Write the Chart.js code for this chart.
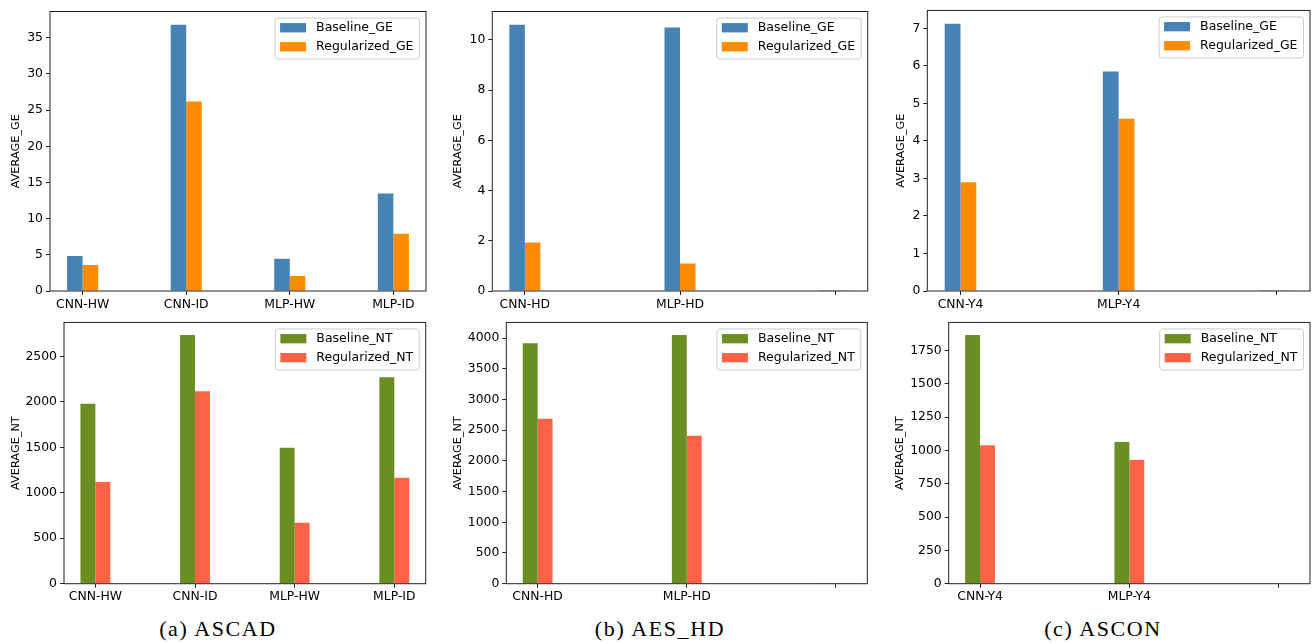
<!DOCTYPE html>
<html>
<head>
<meta charset="utf-8">
<script src="https://cdn.jsdelivr.net/npm/chart.js@4.4.1/dist/chart.umd.min.js"></script>
<style>
  body { margin: 0; background: #fff; width: 1313px; height: 644px; position: relative; overflow: hidden; }
  canvas { position: absolute; }
  .cap { position: absolute; top: 616px; font-family: 'Liberation Serif', serif; font-size: 22px; letter-spacing: 1.6px;
         transform: translateX(-50%); white-space: nowrap; color: #000; }
</style>
</head>
<body>
<canvas id="aGE"></canvas>
<canvas id="bGE"></canvas>
<canvas id="cGE"></canvas>
<canvas id="aNT"></canvas>
<canvas id="bNT"></canvas>
<canvas id="cNT"></canvas>
<div class="cap" style="left:218px">(a) ASCAD</div>
<div class="cap" style="left:660px">(b) AES_HD</div>
<div class="cap" style="left:1103px">(c) ASCON</div>
<script>
// Data
const ascadLabels = ['CNN-HW', 'CNN-ID', 'MLP-HW', 'MLP-ID'];
const ascadBaseGE = [4.83, 36.8, 4.46, 13.47];
const ascadRegGE = [3.6, 26.2, 2.07, 7.9];
const ascadBaseNT = [1981, 2738, 1497, 2272];
const ascadRegNT = [1120, 2119, 672, 1167];

const aeshdLabels = ['CNN-HD', 'MLP-HD', ''];
const aeshdBaseGE = [10.6, 10.49, 0.03];
const aeshdRegGE = [1.93, 1.1, 0.03];
const aeshdBaseNT = [3916, 4052, 4];
const aeshdRegNT = [2688, 2409, 4];

const asconLabels = ['CNN-Y4', 'MLP-Y4', ''];
const asconBaseGE = [7.12, 5.85, 0.02];
const asconRegGE = [2.9, 4.59, 0.02];
const asconBaseNT = [1866, 1063, 3];
const asconRegNT = [1039, 927, 3];

// Tick labels
const ascadGETicks = [0, 5, 10, 15, 20, 25, 30, 35];
const aeshdGETicks = [0, 2, 4, 6, 8, 10];
const asconGETicks = [0, 1, 2, 3, 4, 5, 6, 7];
const ascadNTTicks = [0, 500, 1000, 1500, 2000, 2500];
const aeshdNTTicks = [0, 500, 1000, 1500, 2000, 2500, 3000, 3500, 4000];
const asconNTTicks = [0, 250, 500, 750, 1000, 1250, 1500, 1750];

const geNames = ['Baseline_GE', 'Regularized_GE'];
const ntNames = ['Baseline_NT', 'Regularized_NT'];
const geColors = ['#4682B4', '#FF8C00'];
const ntColors = ['#6B8E23', '#FF6347'];

const FONT = "'DejaVu Sans', sans-serif";
const INK = '#222';

// matplotlib-like frame around the axes
const spines = {
  id: 'spines',
  afterDatasetsDraw(chart) {
    const { ctx, chartArea: ca } = chart;
    ctx.save();
    ctx.strokeStyle = INK;
    ctx.lineWidth = 1;
    ctx.strokeRect(ca.left, ca.top, ca.right - ca.left, ca.bottom - ca.top);
    ctx.restore();
  }
};

// upper-right legend drawn inside the axes
const mplLegend = {
  id: 'mplLegend',
  afterDraw(chart) {
    const { ctx, chartArea: ca } = chart;
    const sets = chart.data.datasets;
    ctx.save();
    ctx.font = '12.5px ' + FONT;
    const textW = Math.max(...sets.map(d => ctx.measureText(d.label).width));
    const w = 5 + 26 + 10 + textW + 6;
    const h = 41;
    const x = ca.right - 6.5 - w;
    const y = ca.top + 6.5;
    ctx.beginPath();
    ctx.roundRect(x, y, w, h, 3);
    ctx.fillStyle = 'rgba(255,255,255,0.8)';
    ctx.fill();
    ctx.strokeStyle = '#cccccc';
    ctx.lineWidth = 1;
    ctx.stroke();
    ctx.textBaseline = 'middle';
    sets.forEach((d, i) => {
      const cy = y + 9.7 + i * 19;
      ctx.fillStyle = d.backgroundColor;
      ctx.fillRect(x + 5, cy - 4.6, 26, 9.3);
      ctx.fillStyle = '#000';
      ctx.fillText(d.label, x + 41, cy + 0.5);
    });
    ctx.restore();
  }
};

function makeChart(id, box, plot, labels, series, names, colors, yTicks, yTitle, barW, titleX) {
  const canvas = document.getElementById(id);
  const W = box[2] - box[0], H = box[3] - box[1];
  canvas.width = W; canvas.height = H;
  canvas.style.left = box[0] + 'px';
  canvas.style.top = box[1] + 'px';
  canvas.style.width = W + 'px';
  canvas.style.height = H + 'px';

  const n = labels.length;
  const span = (n - 1) + 2 * barW;
  const yMax = Math.max(...series.flat()) * 1.05;
  const titleFont = 11.3;

  new Chart(canvas, {
    type: 'bar',
    data: {
      datasets: series.map((vals, k) => ({
        label: names[k],
        data: vals.map((v, i) => ({ x: i, y: v })),
        backgroundColor: colors[k],
        borderWidth: 0,
        categoryPercentage: 2 * barW,
        barPercentage: 1
      }))
    },
    options: {
      responsive: false,
      animation: false,
      events: [],
      layout: { padding: { left: 0, top: plot[1] - box[1], right: box[2] - plot[2], bottom: 0 } },
      plugins: { legend: { display: false }, tooltip: { enabled: false } },
      scales: {
        x: {
          type: 'linear',
          offset: false,
          min: -barW - 0.05 * span,
          max: (n - 1) + barW + 0.05 * span,
          afterBuildTicks: ax => { ax.ticks = labels.map((_, i) => ({ value: i })); },
          afterFit: ax => { ax.height = box[3] - plot[3]; },
          grid: { offset: false, drawOnChartArea: false, drawTicks: true, tickLength: 4, color: INK },
          border: { display: false },
          ticks: {
            autoSkip: false, maxRotation: 0, padding: 2, color: '#000',
            font: { family: FONT, size: 12.4 },
            callback: (v, i) => labels[i]
          }
        },
        y: {
          min: 0,
          max: yMax,
          afterBuildTicks: ax => { ax.ticks = yTicks.map(v => ({ value: v })); },
          afterFit: ax => { ax.width = plot[0] - box[0]; },
          grid: { drawOnChartArea: false, drawTicks: true, tickLength: 4, color: INK },
          border: { display: false },
          ticks: {
            padding: 3, color: '#000',
            font: { family: FONT, size: 12.4 },
            callback: v => String(v)
          },
          title: {
            display: true, text: yTitle, color: '#000',
            font: { family: FONT, size: titleFont },
            padding: { top: titleX - box[0] - titleFont * 0.6, bottom: 0 }
          }
        }
      }
    },
    plugins: [spines, mplLegend]
  });
}

makeChart('aGE', [0, 0, 436, 312], [50, 11.5, 426, 291], ascadLabels, [ascadBaseGE, ascadRegGE], geNames, geColors, ascadGETicks, 'AVERAGE_GE', 0.15, 15.7);
makeChart('bGE', [436, 0, 870, 312], [492.3, 11.5, 867.7, 291], aeshdLabels, [aeshdBaseGE, aeshdRegGE], geNames, geColors, aeshdGETicks, 'AVERAGE_GE', 0.1, 458);
makeChart('cGE', [870, 0, 1313, 312], [927.3, 5.7, 1310, 291], asconLabels, [asconBaseGE, asconRegGE], geNames, geColors, asconGETicks, 'AVERAGE_GE', 0.1, 900.7);
makeChart('aNT', [0, 312, 436, 604], [64, 314.7, 425.7, 583.7], ascadLabels, [ascadBaseNT, ascadRegNT], ntNames, ntColors, ascadNTTicks, 'AVERAGE_NT', 0.15, 15.8);
makeChart('bNT', [436, 312, 870, 604], [506.3, 314.7, 867.3, 583.7], aeshdLabels, [aeshdBaseNT, aeshdRegNT], ntNames, ntColors, aeshdNTTicks, 'AVERAGE_NT', 0.1, 458.3);
makeChart('cNT', [870, 312, 1313, 604], [948.7, 314.7, 1310, 583.7], asconLabels, [asconBaseNT, asconRegNT], ntNames, ntColors, asconNTTicks, 'AVERAGE_NT', 0.1, 900.3);
</script>
</body>
</html>
